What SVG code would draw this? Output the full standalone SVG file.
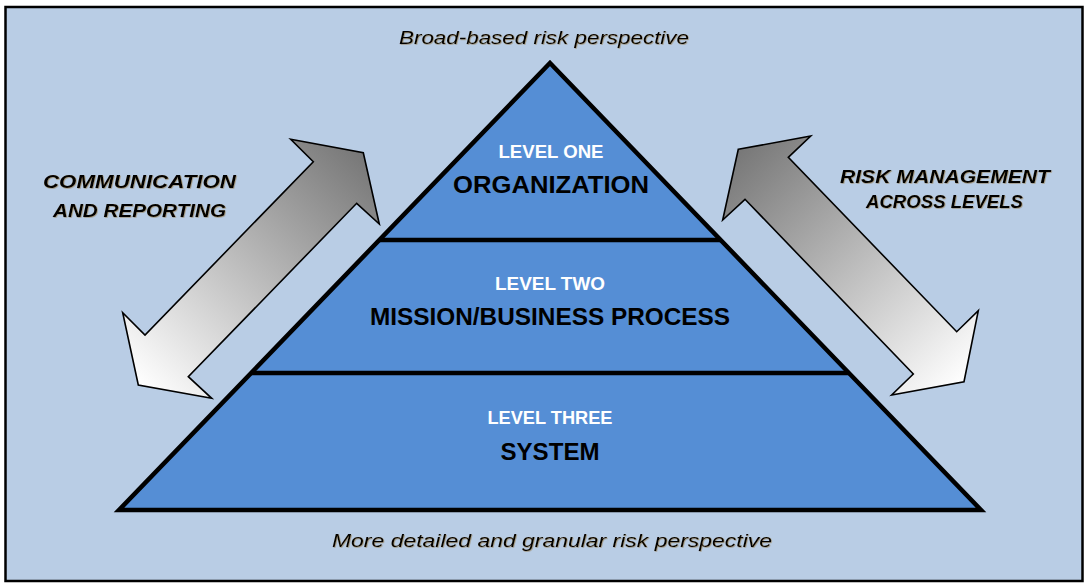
<svg xmlns="http://www.w3.org/2000/svg" width="1090" height="586" viewBox="0 0 1090 586">
  <defs>
    <linearGradient id="gradL" x1="363" y1="153" x2="138" y2="385" gradientUnits="userSpaceOnUse">
      <stop offset="0" stop-color="#777777"/>
      <stop offset="1" stop-color="#ffffff"/>
    </linearGradient>
    <linearGradient id="gradR" x1="738" y1="149" x2="964" y2="382" gradientUnits="userSpaceOnUse">
      <stop offset="0" stop-color="#777777"/>
      <stop offset="1" stop-color="#ffffff"/>
    </linearGradient>
    <filter id="shadow" x="-5%" y="-20%" width="110%" height="140%">
      <feDropShadow dx="0.7" dy="0.7" stdDeviation="0.35" flood-color="#8a6a30" flood-opacity="0.6"/>
    </filter>
  </defs>
  <style>
    .frame { fill: #b9cde5; stroke: #000; stroke-width: 2.5; }
    .tier { fill: #558ed5; stroke: none; }
    .outline { fill: none; stroke: #000; stroke-width: 4.5; stroke-linejoin: miter; }
    .divider { stroke: #000; stroke-width: 4.5; }
    .arrow { stroke: #000; stroke-width: 1.6; stroke-linejoin: miter; }
    .lvl { font-family: "Liberation Sans", Arial, sans-serif; font-weight: bold; fill: #ffffff; font-size: 18px; text-anchor: middle; }
    .name { font-family: "Liberation Sans", Arial, sans-serif; font-weight: bold; fill: #000; font-size: 24px; text-anchor: middle; }
    .persp { font-family: "Liberation Sans", Arial, sans-serif; font-style: italic; fill: #000; font-size: 19px; text-anchor: middle; filter: url(#shadow); }
    .side { font-family: "Liberation Sans", Arial, sans-serif; font-style: italic; font-weight: bold; fill: #000; font-size: 18px; text-anchor: middle; filter: url(#shadow); }
  </style>

  <rect class="frame" x="5.5" y="7" width="1077" height="574"/>

  <g id="pyramid">
    <g id="level-one">
      <polygon class="tier" points="550,63 379.3,240 720.7,240"/>
      <text class="lvl" x="551" y="158" textLength="105" lengthAdjust="spacingAndGlyphs">LEVEL ONE</text>
      <text class="name" x="551" y="193" textLength="196" lengthAdjust="spacingAndGlyphs">ORGANIZATION</text>
    </g>
    <g id="level-two">
      <polygon class="tier" points="379.3,240 720.7,240 848.9,373 251.1,373"/>
      <text class="lvl" x="550" y="290" textLength="110" lengthAdjust="spacingAndGlyphs">LEVEL TWO</text>
      <text class="name" x="550" y="325" textLength="360" lengthAdjust="spacingAndGlyphs">MISSION/BUSINESS PROCESS</text>
    </g>
    <g id="level-three">
      <polygon class="tier" points="251.1,373 848.9,373 981,510 119,510"/>
      <text class="lvl" x="550" y="424" textLength="125" lengthAdjust="spacingAndGlyphs">LEVEL THREE</text>
      <text class="name" x="550" y="460" textLength="99" lengthAdjust="spacingAndGlyphs">SYSTEM</text>
    </g>
    <polygon class="outline" points="550,63 981,510 119,510"/>
    <line class="divider" x1="379.3" y1="240" x2="720.7" y2="240"/>
    <line class="divider" x1="251.1" y1="373" x2="848.9" y2="373"/>
  </g>

  <g id="label-top">
    <text class="persp" x="544" y="44" textLength="290" lengthAdjust="spacingAndGlyphs">Broad-based risk perspective</text>
  </g>
  <g id="label-bottom">
    <text class="persp" x="552" y="547" textLength="440" lengthAdjust="spacingAndGlyphs">More detailed and granular risk perspective</text>
  </g>
  <g id="label-left">
    <text class="side" x="139.5" y="188" textLength="193" lengthAdjust="spacingAndGlyphs">COMMUNICATION</text>
    <text class="side" x="139.5" y="217" textLength="173" lengthAdjust="spacingAndGlyphs">AND REPORTING</text>
  </g>
  <g id="label-right">
    <text class="side" x="945" y="183" textLength="210" lengthAdjust="spacingAndGlyphs">RISK MANAGEMENT</text>
    <text class="side" x="944.5" y="208" textLength="157" lengthAdjust="spacingAndGlyphs">ACROSS LEVELS</text>
  </g>

  <g id="connectors">
    <polygon class="arrow" fill="url(#gradL)" points="290.7,139.3 363.3,152.7 379.3,224 356.7,203.3 188.3,376.7 211.7,398.3 138.3,385 122.7,312.7 145,335 313.3,161.7"/>
    <polygon class="arrow" fill="url(#gradR)" points="738.3,149.3 810.7,136 788.3,157.3 956.7,331.7 978.3,310.7 964,381.7 891.7,395 913.3,374 745,199.3 722.7,220"/>
  </g>
</svg>
